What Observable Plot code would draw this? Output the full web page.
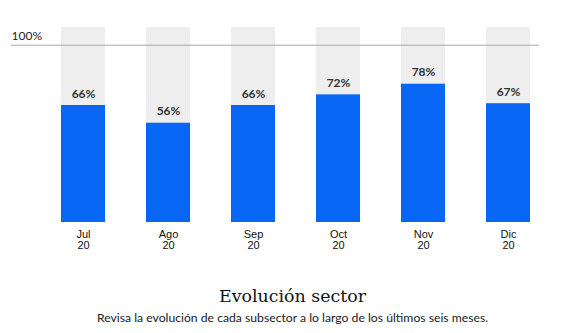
<!DOCTYPE html>
<html>
<head>
<meta charset="utf-8">
<script src="https://cdn.jsdelivr.net/npm/d3@7"></script>
<script src="https://cdn.jsdelivr.net/npm/@observablehq/plot@0.6"></script>
<style>
  body { margin: 0; background: #fff; }
  #wrap { width: 563px; }
  h2 { margin: 0; text-align: center; font-family: "DejaVu Serif", serif; font-weight: normal; font-size: 17.4px; color: #111; line-height: 20px; padding-top: 26px; padding-left: 22px; }
  p { margin: 0; text-align: center; font-family: Lato, sans-serif; font-size: 12.2px; color: #222; padding-top: 4px; padding-left: 22px; }
</style>
</head>
<body>
<div id="wrap">
  <div id="chart"></div>
  <h2>Evolución sector</h2>
  <p>Revisa la evolución de cada subsector a lo largo de los últimos seis meses.</p>
</div>
<script>
const months = ["Jul", "Ago", "Sep", "Oct", "Nov", "Dic"];
const years = ["20", "20", "20", "20", "20", "20"];
const values = [66, 56, 66, 72, 78, 67];
const maxLabel = "100%";

const data = months.map((m, i) => ({ key: m + "\n" + years[i], value: values[i] }));

const chart = Plot.plot({
  width: 563,
  height: 260,
  marginTop: 27,
  marginBottom: 38,
  marginLeft: 28,
  marginRight: 0,
  style: { fontFamily: "Liberation Sans, Arial, sans-serif", fontSize: "11px", color: "#111", background: "transparent" },
  x: { domain: data.map(d => d.key), paddingInner: 0.478, paddingOuter: 0.375, label: null },
  y: { domain: [0, 110], axis: null },
  marks: [
    Plot.barY(data, { x: "key", y: () => 110, fill: "#eeeeee" }),
    Plot.barY(data, { x: "key", y: "value", fill: "#0767f4" }),
    Plot.ruleY([100], { stroke: "#aaaaaa", strokeWidth: 1, insetLeft: -17, insetRight: 24 }),
    Plot.text([100], { y: d => d, text: () => maxLabel, frameAnchor: "left", dx: -17, dy: -9, textAnchor: "start", fontSize: 12, fill: "#222", fontFamily: "Lato, sans-serif" }),
    Plot.text(data, { x: "key", y: "value", text: d => d.value + "%", dy: -8, lineAnchor: "bottom", fontFamily: "Lato, sans-serif", fontWeight: "bold", fontSize: 12, fill: "#333" }),
    Plot.axisX({ tickSize: 0, tickPadding: 8, fontSize: 11, lineHeight: 1, fill: "#111" })
  ]
});
document.getElementById("chart").appendChild(chart);
</script>
</body>
</html>
